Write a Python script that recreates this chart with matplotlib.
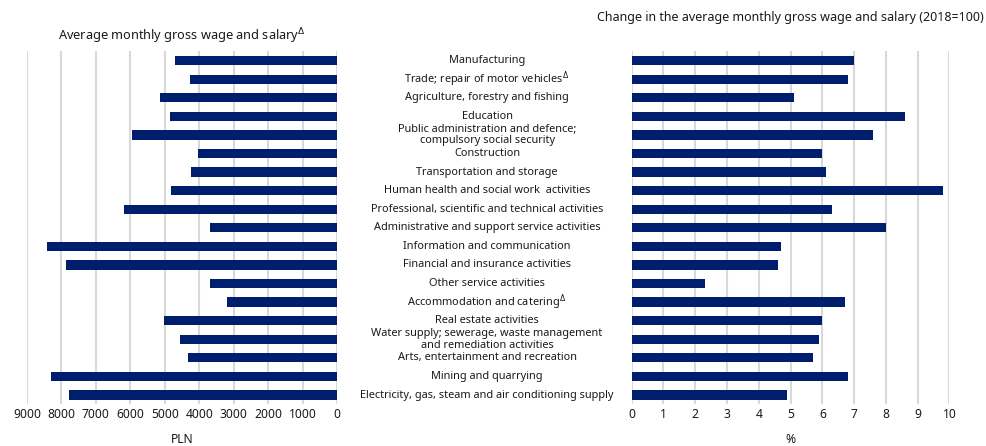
import matplotlib
matplotlib.use("Agg")
import matplotlib.pyplot as plt
import matplotlib.transforms as mtransforms

# Sections of the economy, top to bottom
sections = [
    "Manufacturing",
    "Trade; repair of motor vehicles$^{\\Delta}$",
    "Agriculture, forestry and fishing",
    "Education",
    "Public administration and defence;\ncompulsory social security",
    "Construction",
    "Transportation and storage",
    "Human health and social work  activities",
    "Professional, scientific and technical activities",
    "Administrative and support service activities",
    "Information and communication",
    "Financial and insurance activities",
    "Other service activities",
    "Accommodation and catering$^{\\Delta}$",
    "Real estate activities",
    "Water supply; sewerage, waste management\nand remediation activities",
    "Arts, entertainment and recreation",
    "Mining and quarrying",
    "Electricity, gas, steam and air conditioning supply",
]

# Average monthly gross wage (PLN)
wage_pln = [4700, 4280, 5130, 4840, 5960, 4040, 4240, 4820, 6190, 3700,
            8430, 7860, 3700, 3190, 5010, 4570, 4320, 8290, 7770]

# Change vs previous year (%)
change_pct = [7.0, 6.8, 5.1, 8.6, 7.6, 6.0, 6.1, 9.8, 6.3, 8.0,
              4.7, 4.6, 2.3, 6.7, 6.0, 5.9, 5.7, 6.8, 4.9]

left_ticks = list(range(0, 10000, 1000))
right_ticks = list(range(0, 11))

BAR = "#001E6E"
GRID = "#d9d9d9"
TXT = "#1a1a1a"
FONT = ["Noto Sans", "DejaVu Sans"]

plt.rcParams["font.family"] = FONT

fig = plt.figure(figsize=(9.87, 4.46), dpi=100)
ax_l = fig.add_axes([0.0274, 0.0935, 0.314, 0.7915])
ax_r = fig.add_axes([0.640, 0.0935, 0.322, 0.7915])

ypos = list(range(len(sections)))

ax_l.barh(ypos, wage_pln, height=0.5, color=BAR, zorder=3)
ax_l.set_xlim(9000, 0)
ax_l.set_xticks(left_ticks)

ax_r.barh(ypos, change_pct, height=0.5, color=BAR, zorder=3)
ax_r.set_xlim(0, 10)
ax_r.set_xticks(right_ticks)

for ax in (ax_l, ax_r):
    ax.set_ylim(len(sections) - 0.5, -0.5)
    ax.set_yticks([])
    for s in ax.spines.values():
        s.set_visible(False)
    ax.grid(axis="x", color=GRID, linewidth=1.5, zorder=0)
    ax.tick_params(axis="x", length=0, labelsize=8.7, labelcolor=TXT, pad=3)

ax_l.set_xlabel("PLN", fontsize=8.7, color=TXT, labelpad=8)
ax_r.set_xlabel("%", fontsize=8.7, color=TXT, labelpad=8)

ax_l.set_title("Average monthly gross wage and salary$^{\\Delta}$",
               fontsize=9.2, color=TXT, pad=8)
ax_r.set_title("Change in the average monthly gross wage and salary (2018=100)",
               fontsize=9.0, color=TXT, pad=22)

# category labels in the gap between the two panels
trans = mtransforms.blended_transform_factory(fig.transFigure, ax_l.transData)
for y, name in zip(ypos, sections):
    fig.text(0.4935, y, name, transform=trans, ha="center", va="center",
             fontsize=7.9, color=TXT, linespacing=1.1)

fig.savefig("out.png", dpi=100)
